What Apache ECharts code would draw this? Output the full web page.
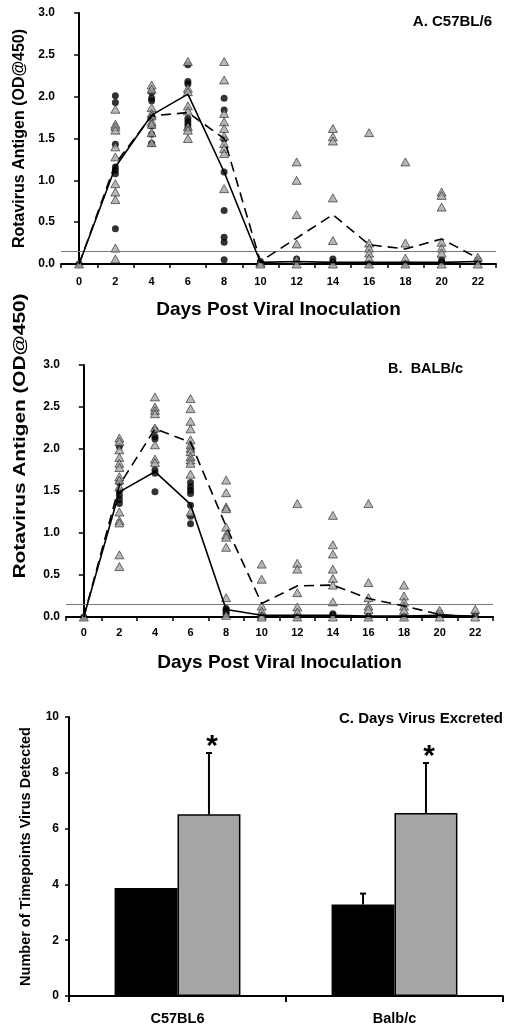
<!DOCTYPE html>
<html>
<head>
<meta charset="utf-8">
<script src="https://cdn.jsdelivr.net/npm/echarts@6/dist/echarts.min.js"></script>
<style>
html,body{margin:0;padding:0;background:#fff;}
#c{width:517px;height:1032px;}
</style>
</head>
<body>
<div id="c"></div>
<script>
// ---------- DATA ----------
const days = [0, 2, 4, 6, 8, 10, 12, 14, 16, 18, 20, 22];
const xTickValues = [-1, 1, 3, 5, 7, 9, 11, 13, 15, 17, 19, 21, 23];

// Panel A: C57BL/6 individual values [day, OD]
const aCircles = [
  [0,0],
  [2,2.01],[2,1.93],[2,1.43],[2,1.16],[2,1.12],[2,1.08],[2,0.42],
  [4,2.05],[4,1.98],[4,1.95],[4,1.75],[4,1.65],[4,1.55],[4,1.44],
  [6,2.38],[6,2.18],[6,2.15],[6,1.74],[6,1.70],[6,1.66],[6,1.62],
  [8,1.98],[8,1.84],[8,1.49],[8,1.10],[8,0.64],[8,0.32],[8,0.26],[8,0.05],
  [10,0.03],[10,0.01],[12,0.06],[12,0.02],[14,0.06],[14,0.02],[16,0.01],[18,0.01],
  [20,0.05],[20,0.02],[22,0.05],[22,0.02]
];
const aTriangles = [
  [0,0],
  [2,1.85],[2,1.67],[2,1.64],[2,1.60],[2,1.40],[2,1.28],[2,0.96],[2,0.86],[2,0.77],[2,0.19],[2,0.06],
  [4,2.14],[4,2.09],[4,1.87],[4,1.80],[4,1.77],[4,1.70],[4,1.67],[4,1.57],[4,1.45],
  [6,2.42],[6,2.10],[6,2.06],[6,1.89],[6,1.83],[6,1.64],[6,1.60],[6,1.50],
  [8,2.42],[8,2.20],[8,1.80],[8,1.70],[8,1.62],[8,1.53],[8,1.44],[8,1.38],[8,1.32],[8,0.90],
  [10,0.02],[10,0.0],
  [12,1.22],[12,1.00],[12,0.59],[12,0.24],[12,0.05],[12,0.0],
  [14,1.62],[14,1.52],[14,1.47],[14,0.79],[14,0.28],[14,0.0],
  [16,1.57],[16,0.25],[16,0.19],[16,0.13],[16,0.07],[16,0.0],
  [18,1.22],[18,0.25],[18,0.07],[18,0.0],
  [20,0.86],[20,0.82],[20,0.68],[20,0.26],[20,0.19],[20,0.13],[20,0.0],
  [22,0.08],[22,0.0]
];
const aSolidMean  = [0, 1.16, 1.78, 2.03, 1.10, 0.02, 0.03, 0.02, 0.02, 0.02, 0.02, 0.03];
const aDashedMean = [0, 1.20, 1.77, 1.81, 1.50, 0.03, 0.31, 0.59, 0.23, 0.18, 0.30, 0.07];

// Panel B: BALB/c individual values [day, OD]
const bCircles = [
  [0,0],
  [2,2.03],[2,1.60],[2,1.50],[2,1.45],[2,1.40],[2,1.35],
  [4,2.23],[4,2.15],[4,2.12],[4,1.75],[4,1.71],[4,1.49],
  [6,1.60],[6,1.55],[6,1.51],[6,1.47],[6,1.33],[6,1.20],[6,1.11],
  [8,0.10],[8,0.08],[8,0.06],[8,0.03],
  [10,0.02],[12,0.01],[14,0.04],[14,0.02],[16,0.01],[18,0.01],[20,0.05],[20,0.03],[22,0.03]
];
const bTriangles = [
  [0,0],
  [2,2.13],[2,2.09],[2,1.99],[2,1.90],[2,1.83],[2,1.78],[2,1.67],[2,1.63],[2,1.55],[2,1.25],[2,1.15],[2,1.12],[2,0.74],[2,0.60],
  [4,2.62],[4,2.50],[4,2.46],[4,2.42],[4,2.25],[4,2.05],[4,1.88],[4,1.84],
  [6,2.60],[6,2.48],[6,2.33],[6,2.24],[6,2.11],[6,2.05],[6,2.01],[6,1.97],[6,1.91],[6,1.87],[6,1.83],[6,1.70],[6,1.25],
  [8,1.63],[8,1.48],[8,1.31],[8,1.29],[8,1.07],[8,0.98],[8,0.95],[8,0.83],[8,0.23],[8,0.02],
  [10,0.63],[10,0.45],[10,0.13],[10,0.07],[10,0.02],[10,0],
  [12,1.35],[12,0.64],[12,0.57],[12,0.29],[12,0.12],[12,0.06],[12,0],
  [14,1.21],[14,0.86],[14,0.75],[14,0.57],[14,0.46],[14,0.38],[14,0.18],[14,0],
  [16,1.35],[16,0.41],[16,0.23],[16,0.13],[16,0.09],[16,0],
  [18,0.38],[18,0.25],[18,0.18],[18,0.13],[18,0.08],[18,0],
  [20,0.08],[20,0],
  [22,0.09],[22,0]
];
const bSolidMean  = [0, 1.49, 1.73, 1.34, 0.09, 0.02, 0.02, 0.02, 0.01, 0.01, 0.02, 0.01];
const bDashedMean = [0, 1.57, 2.24, 2.08, 1.08, 0.16, 0.37, 0.38, 0.22, 0.13, 0.03, 0.00];

const detectionLimit = 0.15;

// Panel C
const strains = ['C57BL6', 'Balb/c'];
const blackBars = [3.87, 3.28];
const blackErrTop = [3.87, 3.67];
const grayBars = [6.51, 6.56];
const grayErrTop = [8.71, 8.35];
const grayMarks = ['*', '*'];

// ---------- STYLE ----------
const FONT = '"Liberation Sans", Arial, Helvetica, sans-serif';
const GRAY = '#a6a6a6';
const OD_TITLE = 'Rotavirus Antigen (OD@450)';
const chart = echarts.init(document.getElementById('c'), null, {renderer: 'canvas'});

function pairs(m) { return days.map((d, i) => [d, m[i]]); }

function timeXAxis(gridIndex, labelMargin) {
  return {
    gridIndex, type: 'value', min: -1, max: 23, interval: 1,
    name: 'Days Post Viral Inoculation', nameLocation: 'middle', nameGap: 36,
    nameTextStyle: {fontFamily: FONT, fontWeight: 'bold', fontSize: 19, color: '#000'},
    axisLine: {show: true, onZero: false, lineStyle: {color: '#000', width: 2}},
    axisTick: {show: true, inside: false, length: 4, customValues: xTickValues, lineStyle: {color: '#000', width: 1.5}},
    axisLabel: {customValues: days, margin: labelMargin, fontFamily: FONT, fontWeight: 'bold', fontSize: 11, color: '#000'},
    splitLine: {show: false}
  };
}
function odYAxis(gridIndex, name) {
  return {
    gridIndex, type: 'value', min: 0, max: 3, interval: 0.5,
    name: name, nameLocation: 'middle', nameGap: 28, nameRotate: 90,
    nameTextStyle: {fontFamily: FONT, fontWeight: 'bold', fontSize: 16, color: '#000'},
    axisLine: {show: true, lineStyle: {color: '#000', width: 2}},
    axisTick: {show: true, length: 5, lineStyle: {color: '#000', width: 1.5}},
    axisLabel: {margin: 6, formatter: v => v.toFixed(1), fontFamily: FONT, fontWeight: 'bold', fontSize: 12, color: '#000'},
    splitLine: {show: false}
  };
}
function circleSeries(idx, data) {
  return {type: 'scatter', xAxisIndex: idx, yAxisIndex: idx, data, symbol: 'circle', symbolSize: 7,
    itemStyle: {color: '#000'}, z: 3, silent: true};
}
function triSeries(idx, data) {
  return {type: 'scatter', xAxisIndex: idx, yAxisIndex: idx, data, symbol: 'triangle', symbolSize: [9, 8],
    itemStyle: {color: GRAY, borderColor: '#222', borderWidth: 0.8}, z: 4, silent: true};
}
function meanSeries(idx, data, dashed, withLimit) {
  const s = {type: 'line', xAxisIndex: idx, yAxisIndex: idx, data: pairs(data), symbol: 'none',
    lineStyle: {color: '#000', width: 1.6, type: dashed ? [10, 6] : 'solid'}, z: 5, silent: true};
  if (withLimit) {
    s.markLine = {silent: true, symbol: 'none', label: {show: false},
      lineStyle: {color: '#777', width: 1, type: 'solid'}, data: [{yAxis: detectionLimit}]};
  }
  return s;
}

function errorBars(seriesSide, means, tops, marks) {
  return {
    type: 'custom', xAxisIndex: 2, yAxisIndex: 2, z: 10, silent: true,
    data: means.map((m, i) => [i, m, tops[i]]),
    renderItem: function (params, api) {
      const i = api.value(0), top = api.value(2);
      const band = api.size([1, 0])[0];
      const bw = band * (1 - 0.42) / 2;
      const base = api.coord([i, api.value(1)]);
      const t = api.coord([i, top]);
      const x = base[0] + seriesSide * bw / 2;
      const children = [];
      if (top > api.value(1) + 1e-9) {
        children.push({type: 'line', shape: {x1: x, y1: base[1], x2: x, y2: t[1]}, style: {stroke: '#000', lineWidth: 2}});
        children.push({type: 'line', shape: {x1: x - 3, y1: t[1], x2: x + 3, y2: t[1]}, style: {stroke: '#000', lineWidth: 2}});
      }
      const mark = marks ? marks[params.dataIndex] : '';
      if (mark) {
        children.push({type: 'text', style: {text: mark, x: x + 3, y: t[1] + 9, textAlign: 'center', textVerticalAlign: 'bottom',
          font: 'bold 30px ' + FONT, fill: '#000'}});
      }
      return {type: 'group', children};
    }
  };
}

const option = {
  animation: false,
  backgroundColor: '#fff',
  title: [
    {text: 'A. C57BL/6', right: 20, top: 9, textStyle: {fontFamily: FONT, fontWeight: 'bold', fontSize: 15, color: '#000'}},
    {text: 'B.  BALB/c', right: 49, top: 356, textStyle: {fontFamily: FONT, fontWeight: 'bold', fontSize: 14.5, color: '#000'}},
    {text: 'C. Days Virus Excreted', right: 9, top: 706, textStyle: {fontFamily: FONT, fontWeight: 'bold', fontSize: 15, color: '#000'}}
  ],
  graphic: [
    {type: 'text', x: 21, y: 436, rotation: Math.PI / 2, silent: true,
      style: {text: OD_TITLE, textAlign: 'center', textVerticalAlign: 'middle', font: 'bold 16px ' + FONT, fill: '#000'},
      scaleX: 1.3}
  ],
  grid: [
    {left: 61, top: 13, width: 435, height: 251},
    {left: 66, top: 365, width: 427, height: 252},
    {left: 69, top: 717, width: 434, height: 279}
  ],
  xAxis: [
    timeXAxis(0, 12),
    timeXAxis(1, 10),
    {
      gridIndex: 2, type: 'category', data: strains, boundaryGap: true,
      axisLine: {show: true, lineStyle: {color: '#000', width: 2}},
      axisTick: {show: true, length: 6, alignWithLabel: false, lineStyle: {color: '#000', width: 2}},
      axisLabel: {margin: 15, fontFamily: FONT, fontWeight: 'bold', fontSize: 14.5, color: '#000'},
      splitLine: {show: false}
    }
  ],
  yAxis: [
    odYAxis(0, OD_TITLE),
    odYAxis(1, ''),
    {
      gridIndex: 2, type: 'value', min: 0, max: 10, interval: 2,
      name: 'Number of Timepoints Virus Detected', nameLocation: 'middle', nameGap: 36, nameRotate: 90,
      nameTextStyle: {fontFamily: FONT, fontWeight: 'bold', fontSize: 14.5, color: '#000'},
      axisLine: {show: true, lineStyle: {color: '#000', width: 2}},
      axisTick: {show: true, length: 4, lineStyle: {color: '#000', width: 1.5}},
      axisLabel: {margin: 10, fontFamily: FONT, fontWeight: 'bold', fontSize: 12, color: '#000'},
      splitLine: {show: false}
    }
  ],
  series: [
    circleSeries(0, aCircles), triSeries(0, aTriangles),
    meanSeries(0, aSolidMean, false, true), meanSeries(0, aDashedMean, true, false),
    circleSeries(1, bCircles), triSeries(1, bTriangles),
    meanSeries(1, bSolidMean, false, true), meanSeries(1, bDashedMean, true, false),
    {type: 'bar', xAxisIndex: 2, yAxisIndex: 2, data: blackBars, barGap: '0%', barCategoryGap: '42%',
      itemStyle: {color: '#000', borderColor: '#000', borderWidth: 1.5}, silent: true},
    {type: 'bar', xAxisIndex: 2, yAxisIndex: 2, data: grayBars, barGap: '0%', barCategoryGap: '42%',
      itemStyle: {color: GRAY, borderColor: '#000', borderWidth: 1.5}, silent: true},
    errorBars(-1, blackBars, blackErrTop, null),
    errorBars(1, grayBars, grayErrTop, grayMarks)
  ]
};
chart.setOption(option);
</script>
</body>
</html>
